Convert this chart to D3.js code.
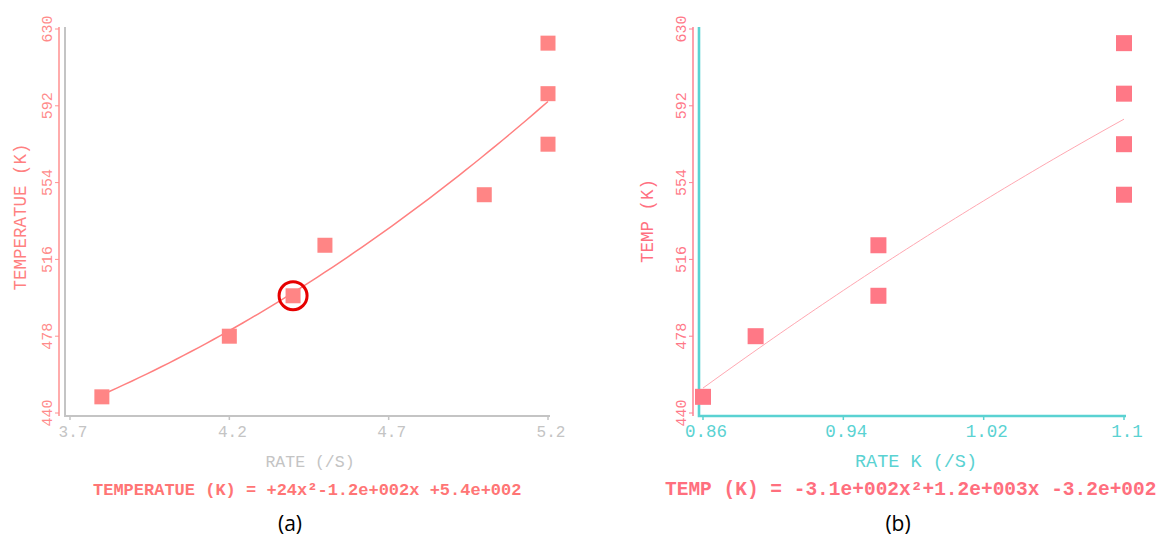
<!DOCTYPE html>
<html>
<head>
<meta charset="utf-8">
<script src="https://cdn.jsdelivr.net/npm/d3@7"></script>
<style>
  body { margin: 0; background: #fff; }
  svg { display: block; }
  text { font-family: "Courier New", "Nimbus Mono PS", "FreeMono", "Liberation Mono", monospace; }
</style>
</head>
<body>
<svg id="chart" width="1167" height="537"></svg>
<script>
// temperatures shared by both panels (K)
const tempValues = [448, 478, 498, 523, 548, 573, 598, 623];
// panel (a): rate (/s)
const rateValues = [3.8, 4.2, 4.4, 4.5, 5.0, 5.2, 5.2, 5.2];
// panel (b): rate constant k (/s)
const rateKValues = [0.86, 0.89, 0.96, 0.96, 1.1, 1.1, 1.1, 1.1];

const yTicks = [440, 478, 516, 554, 592, 630];
const xTicksA = [3.7, 4.2, 4.7, 5.2];
const xTicksB = [0.86, 0.94, 1.02, 1.1];
const highlightIndex = 2; // circled point in (a)

const svg = d3.select('#chart');

// least squares quadratic fit y = a x^2 + b x + c
function quadFit(xs, ys) {
  const S = [0, 0, 0, 0, 0], T = [0, 0, 0];
  xs.forEach((x, i) => {
    for (let k = 0; k < 5; k++) S[k] += Math.pow(x, k);
    for (let k = 0; k < 3; k++) T[k] += ys[i] * Math.pow(x, k);
  });
  // rows for [c, b, a]
  const M = [
    [S[0], S[1], S[2], T[0]],
    [S[1], S[2], S[3], T[1]],
    [S[2], S[3], S[4], T[2]]
  ];
  for (let i = 0; i < 3; i++) {
    let p = i;
    for (let r = i + 1; r < 3; r++) if (Math.abs(M[r][i]) > Math.abs(M[p][i])) p = r;
    [M[i], M[p]] = [M[p], M[i]];
    for (let r = 0; r < 3; r++) {
      if (r === i) continue;
      const f = M[r][i] / M[i][i];
      for (let c = i; c < 4; c++) M[r][c] -= f * M[i][c];
    }
  }
  const c = M[0][3] / M[0][0], b = M[1][3] / M[1][1], a = M[2][3] / M[2][2];
  return x => a * x * x + b * x + c;
}

function drawPanel(cfg) {
  const g = svg.append('g');
  const x = d3.scaleLinear().domain(cfg.xDomain).range(cfg.xRange);
  const y = d3.scaleLinear().domain([440, 630]).range([413, 29]);

  // red y axis with ticks on the left
  g.append('line')
    .attr('x1', cfg.redX).attr('x2', cfg.redX)
    .attr('y1', 27).attr('y2', 416)
    .attr('stroke', cfg.redAxis).attr('stroke-width', 1.5);
  g.selectAll('.ytick')
    .data(yTicks)
    .enter().append('line')
    .attr('x1', cfg.redX - 4).attr('x2', cfg.redX)
    .attr('y1', d => y(d)).attr('y2', d => y(d))
    .attr('stroke', cfg.redAxis).attr('stroke-width', 1);
  g.selectAll('.ylab')
    .data(yTicks)
    .enter().append('text')
    .attr('transform', d => `translate(${cfg.redX - 12},${y(d)}) rotate(-90)`)
    .attr('text-anchor', 'middle')
    .attr('dy', '0.35em')
    .attr('font-size', 15)
    .attr('fill', cfg.yTickColor)
    .text(d => d);

  // frame axes
  g.append('path')
    .attr('d', `M${cfg.frameX},27V416H${cfg.xRange[1] + 2}`)
    .attr('fill', 'none')
    .attr('stroke', cfg.frameColor)
    .attr('stroke-width', cfg.frameWidth);
  g.selectAll('.xtick')
    .data(cfg.xTicks)
    .enter().append('line')
    .attr('x1', d => x(d)).attr('x2', d => x(d))
    .attr('y1', 417).attr('y2', 420)
    .attr('stroke', cfg.frameColor).attr('stroke-width', 1.5);
  g.selectAll('.xlab')
    .data(cfg.xTicks)
    .enter().append('text')
    .attr('x', d => x(d) + 3)
    .attr('y', 437)
    .attr('text-anchor', 'middle')
    .attr('font-size', cfg.xTickSize)
    .attr('fill', cfg.frameColor)
    .text(d => d);

  // fit curve
  const fit = quadFit(cfg.xs, tempValues);
  const x0 = d3.min(cfg.xs), x1 = d3.max(cfg.xs);
  const curve = d3.range(0, 61).map(i => x0 + (x1 - x0) * i / 60);
  g.append('path')
    .datum(curve)
    .attr('fill', 'none')
    .attr('stroke', cfg.lineColor)
    .attr('stroke-width', cfg.lineWidth)
    .attr('d', d3.line().x(d => x(d)).y(d => y(fit(d))));

  // points
  g.selectAll('.pt')
    .data(cfg.xs.map((v, i) => [v, tempValues[i]]))
    .enter().append('rect')
    .attr('x', d => x(d[0]) - cfg.size / 2)
    .attr('y', d => y(d[1]) - cfg.size / 2)
    .attr('width', cfg.size).attr('height', cfg.size)
    .attr('fill', cfg.pointColor);

  if (cfg.highlight != null) {
    g.append('circle')
      .attr('cx', x(cfg.xs[cfg.highlight]))
      .attr('cy', y(tempValues[cfg.highlight]))
      .attr('r', 14)
      .attr('fill', 'none')
      .attr('stroke', '#e60000')
      .attr('stroke-width', 3);
  }

  // titles
  g.append('text')
    .attr('transform', `translate(${cfg.yLabelX},${cfg.yLabelY}) rotate(-90)`)
    .attr('text-anchor', 'middle')
    .attr('dy', '0.35em')
    .attr('font-size', 17.5)
    .attr('fill', cfg.yTitleColor)
    .text(cfg.yTitle);
  g.append('text')
    .attr('x', cfg.xTitleX).attr('y', 467)
    .attr('text-anchor', 'middle')
    .attr('font-size', cfg.xTitleSize)
    .attr('fill', cfg.frameColor)
    .text(cfg.xTitle);
  g.append('text')
    .attr('x', cfg.eqX).attr('y', 495)
    .attr('font-size', cfg.eqSize)
    .attr('font-weight', 'bold')
    .attr('fill', cfg.eqColor)
    .text(cfg.equation);
  g.append('text')
    .attr('x', cfg.capX).attr('y', 531)
    .attr('text-anchor', 'middle')
    .style('font-family', '"Open Sans", "Liberation Sans", sans-serif')
    .attr('font-size', 21)
    .attr('fill', '#000')
    .text(cfg.caption);
}

drawPanel({
  xs: rateValues, xDomain: [3.7, 5.2], xRange: [70, 548], xTicks: xTicksA,
  redX: 59, frameX: 65, frameColor: '#c4c4c4', frameWidth: 2,
  redAxis: '#ff9090', yTickColor: '#ff8a8a', xTickSize: 16,
  lineColor: '#ff8080', lineWidth: 1.5, pointColor: '#ff8585', size: 15,
  highlight: highlightIndex,
  yTitle: 'TEMPERATUE (K)', yLabelX: 20, yLabelY: 217, yTitleColor: '#ff8080',
  xTitle: 'RATE (/S)', xTitleX: 310, xTitleSize: 16.5,
  equation: 'TEMPERATUE (K) = +24x\u00b2-1.2e+002x +5.4e+002', eqX: 93, eqSize: 17, eqColor: '#ff7575',
  caption: '(a)', capX: 290
});

drawPanel({
  xs: rateKValues, xDomain: [0.86, 1.1], xRange: [703, 1124], xTicks: xTicksB,
  redX: 693, frameX: 699, frameColor: '#5ad2d2', frameWidth: 2.6,
  redAxis: '#ff8090', yTickColor: '#ff7888', xTickSize: 17.5,
  lineColor: '#ffa8b2', lineWidth: 1, pointColor: '#ff7886', size: 16,
  highlight: null,
  yTitle: 'TEMP (K)', yLabelX: 647, yLabelY: 221, yTitleColor: '#ff7080',
  xTitle: 'RATE K (/S)', xTitleX: 916, xTitleSize: 18.5,
  equation: 'TEMP (K) = -3.1e+002x\u00b2+1.2e+003x -3.2e+002', eqX: 665, eqSize: 19.5, eqColor: '#ff6f7e',
  caption: '(b)', capX: 898
});
</script>
</body>
</html>
